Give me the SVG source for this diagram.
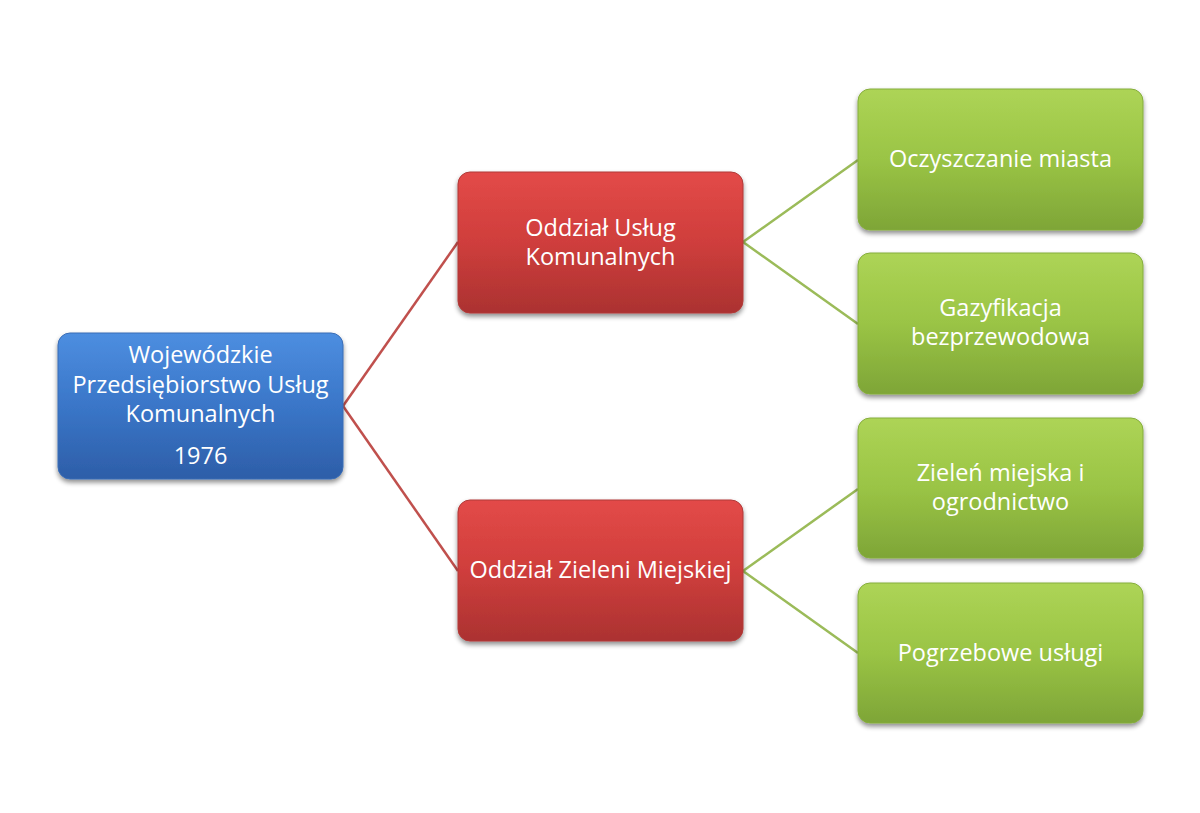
<svg xmlns="http://www.w3.org/2000/svg" width="1200" height="813" viewBox="0 0 1200 813">
<defs>
<linearGradient id="gBlue" x1="0" y1="0" x2="0" y2="1">
<stop offset="0" stop-color="#4d8ee0"/><stop offset="0.5" stop-color="#3a76c8"/><stop offset="1" stop-color="#2d5ea8"/>
</linearGradient>
<linearGradient id="gRed" x1="0" y1="0" x2="0" y2="1">
<stop offset="0" stop-color="#e34a48"/><stop offset="0.5" stop-color="#cf3e3c"/><stop offset="1" stop-color="#ab3231"/>
</linearGradient>
<linearGradient id="gGreen" x1="0" y1="0" x2="0" y2="1">
<stop offset="0" stop-color="#add456"/><stop offset="0.5" stop-color="#9ac445"/><stop offset="1" stop-color="#7ea537"/>
</linearGradient>
<filter id="sh" x="-10%" y="-10%" width="120%" height="130%">
<feGaussianBlur in="SourceAlpha" stdDeviation="2.5"/>
<feOffset dx="0" dy="3" result="b"/>
<feComponentTransfer><feFuncA type="linear" slope="0.45"/></feComponentTransfer>
<feMerge><feMergeNode/><feMergeNode in="SourceGraphic"/></feMerge>
</filter>
</defs>
<style>
.box{filter:url(#sh);}
.blue{fill:url(#gBlue);stroke:#3a6db5;stroke-width:1;}
.red{fill:url(#gRed);stroke:#b03a38;stroke-width:1;}
.green{fill:url(#gGreen);stroke:#85ad3c;stroke-width:1;}
.t{font-family:"Open Sans","Noto Sans",sans-serif;font-size:23.5px;fill:#ffffff;text-anchor:middle;}
.cr{stroke:#c0504d;stroke-width:2.5;fill:none;}
.cg{stroke:#9bbb59;stroke-width:2.5;fill:none;}
</style>
<rect width="1200" height="813" fill="#ffffff"/>
<g id="connectors">
<line class="cr" x1="343" y1="406" x2="458" y2="242"/>
<line class="cr" x1="343" y1="406" x2="458" y2="571"/>
<line class="cg" x1="743" y1="242" x2="858" y2="160"/>
<line class="cg" x1="743" y1="242" x2="858" y2="324"/>
<line class="cg" x1="743" y1="571" x2="858" y2="489"/>
<line class="cg" x1="743" y1="571" x2="858" y2="653"/>
</g>
<g id="root">
<rect class="box blue" x="58" y="333" width="285" height="146" rx="12"/>
<text class="t" x="200.5" y="363">Wojewódzkie</text>
<text class="t" x="200.5" y="393">Przedsiębiorstwo Usług</text>
<text class="t" x="200.5" y="422">Komunalnych</text>
<text class="t" x="200.5" y="464">1976</text>
</g>
<g id="ouk">
<rect class="box red" x="458" y="172" width="285" height="141" rx="12"/>
<text class="t" x="600.5" y="236">Oddział Usług</text>
<text class="t" x="600.5" y="265">Komunalnych</text>
</g>
<g id="ozm">
<rect class="box red" x="458" y="500" width="285" height="141" rx="12"/>
<text class="t" x="600.5" y="578">Oddział Zieleni Miejskiej</text>
</g>
<g id="om">
<rect class="box green" x="858" y="89" width="285" height="141" rx="12"/>
<text class="t" x="1000.5" y="167">Oczyszczanie miasta</text>
</g>
<g id="gb">
<rect class="box green" x="858" y="253" width="285" height="141" rx="12"/>
<text class="t" x="1000.5" y="316">Gazyfikacja</text>
<text class="t" x="1000.5" y="345">bezprzewodowa</text>
</g>
<g id="zmo">
<rect class="box green" x="858" y="418" width="285" height="140" rx="12"/>
<text class="t" x="1000.5" y="481">Zieleń miejska i</text>
<text class="t" x="1000.5" y="510">ogrodnictwo</text>
</g>
<g id="pu">
<rect class="box green" x="858" y="583" width="285" height="140" rx="12"/>
<text class="t" x="1000.5" y="661">Pogrzebowe usługi</text>
</g>
</svg>
